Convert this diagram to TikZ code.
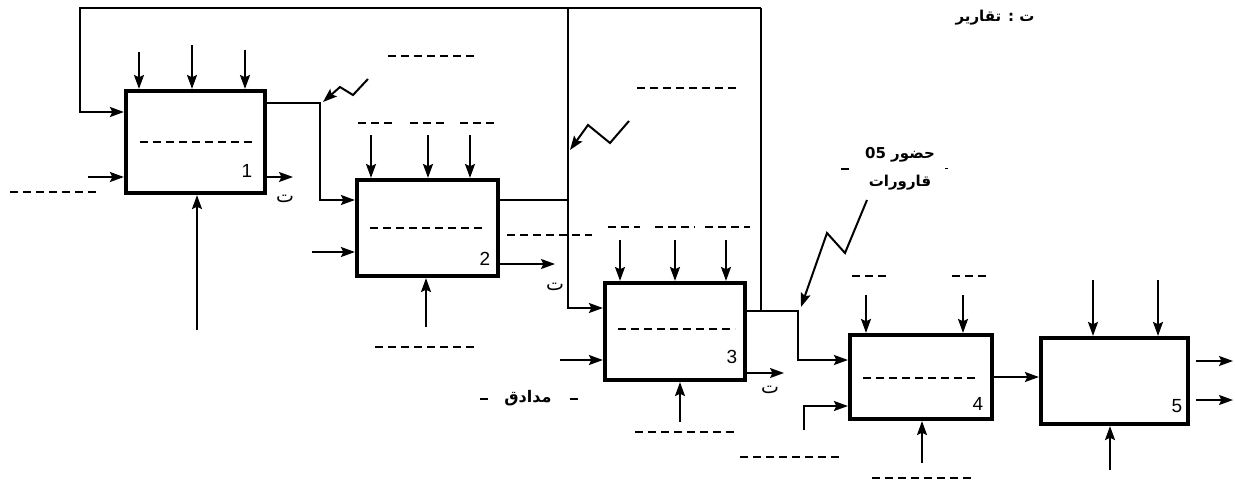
\documentclass[tikz,border=0pt]{standalone}
\usepackage{fontspec}
\setmainfont{Liberation Sans}
\newfontfamily\arabicfont[Script=Arabic]{DejaVu Sans}
\TeXXeTstate=1
\usetikzlibrary{arrows.meta}

\tikzset{
  proc/.style={draw, line width=4.2pt, inner sep=0pt},
  flow/.style={line width=2pt},
  blank/.style={line width=2.2pt, dash pattern=on 8pt off 5pt},
  num/.style={font=\fontsize{19}{21}\selectfont},
  ar/.style={font=\arabicfont\bfseries\fontsize{15}{17}\selectfont, inner sep=1pt},
  rep/.style={font=\arabicfont\fontsize{19}{21}\selectfont, inner sep=1pt},
}

\begin{document}
\begin{tikzpicture}[x=1pt, y=-1pt, >={Stealth[length=14pt,width=10pt,inset=2.5pt]}]
  \useasboundingbox (0,0) rectangle (1235,483);

  % Boxes
  \node[proc, minimum width=139pt, minimum height=102pt] (B1) at (195.5,142) {};
  \node[proc, minimum width=141pt, minimum height=96pt] (B2) at (427.5,228) {};
  \node[proc, minimum width=140pt, minimum height=97pt] (B3) at (675,331.5) {};
  \node[proc, minimum width=142pt, minimum height=84pt] (B4) at (921,377) {};
  \node[proc, minimum width=147pt, minimum height=86pt] (B5) at (1114.5,381) {};

  \node[num] (N1) at (247,171) {1};
  \node[num] (N2) at (485,259) {2};
  \node[num] (N3) at (732,357) {3};
  \node[num] (N4) at (978,404) {4};
  \node[num] (N5) at (1177,406) {5};

  % Feedback and links
  \coordinate (T0) at (80,8);
  \coordinate (T1) at (568,8);
  \coordinate (T2) at (761,8);
  \coordinate (J1) at (320,103);
  \coordinate (J2) at (568,200);
  \coordinate (J3) at (798,311);
  \coordinate (J4) at (761,311);

  \draw[flow,->] (T2) -- (T0) -- (T0 |- 0,112) -- (B1.west |- 0,112);
  \draw[flow] (T1) -- (J2);
  \draw[flow] (T2) -- (J4);
  \draw[flow,->] (B1.east |- J1) -- (J1) -- (J1 |- 0,200) -- (B2.west |- 0,200);
  \draw[flow,->] (B2.east |- J2) -- (J2) -- (J2 |- 0,308) -- (B3.west |- 0,308);
  \draw[flow,->] (B3.east |- J3) -- (J3) -- (J3 |- 0,360) -- (B4.west |- 0,360);
  \draw[flow,->] (B4.east |- 0,377) -- (B5.west |- 0,377);

  % Zigzag arrows
  \draw[flow,->] (368,79) -- (353,95) -- (340,87) -- (323,102);
  \draw[flow,->] (629,121) -- (610,143) -- (588,125) -- (570,150);
  \draw[flow,->] (867,200) -- (845,253) -- (827,233) -- (801,307);

  % Controls from above
  \foreach \x/\y in {139/52, 192/45, 245/50}
    \draw[flow,->] (\x,\y) -- (\x,\y |- B1.north);
  \foreach \x in {371, 428, 470}
    \draw[flow,->] (\x,135) -- (\x,135 |- B2.north);
  \foreach \x in {620, 675, 726}
    \draw[flow,->] (\x,240) -- (\x,240 |- B3.north);
  \foreach \x in {866, 963}
    \draw[flow,->] (\x,295) -- (\x,295 |- B4.north);
  \foreach \x in {1093, 1158}
    \draw[flow,->] (\x,280) -- (\x,280 |- B5.north);

  % Inputs
  \coordinate (I1) at (88,177);
  \coordinate (I2) at (312,252);
  \coordinate (I3) at (560,360);
  \coordinate (I4) at (804,430);
  \draw[flow,->] (I1) -- (I1 -| B1.west);
  \draw[flow,->] (I2) -- (I2 -| B2.west);
  \draw[flow,->] (I3) -- (I3 -| B3.west);
  \draw[flow,->] (I4) -- (I4 |- 0,406) -- (B4.west |- 0,406);

  % Mechanisms from below
  \coordinate (M1) at (197,330);
  \coordinate (M2) at (426,327);
  \coordinate (M3) at (680,422);
  \coordinate (M4) at (922,463);
  \coordinate (M5) at (1110,470);
  \draw[flow,->] (M1) -- (M1 |- B1.south);
  \draw[flow,->] (M2) -- (M2 |- B2.south);
  \draw[flow,->] (M3) -- (M3 |- B3.south);
  \draw[flow,->] (M4) -- (M4 |- B4.south);
  \draw[flow,->] (M5) -- (M5 |- B5.south);

  % Outputs
  \coordinate (O1) at (293,177);
  \coordinate (O2) at (555,264);
  \coordinate (O3) at (784,373);
  \coordinate (O4) at (1233,361);
  \coordinate (O5) at (1233,400);
  \draw[flow,->] (O1 -| B1.east) -- (O1);
  \draw[flow,->] (O2 -| B2.east) -- (O2);
  \draw[flow,->] (O3 -| B3.east) -- (O3);
  \draw[flow,->] (1196,361) -- (O4);
  \draw[flow,->] (1196,400) -- (O5);

  \node[rep] (R1) at (285,199) {ت};
  \node[rep] (R2) at (555,287) {ت};
  \node[rep] (R3) at (770,390) {ت};

  % Blank fields
  \draw[blank] (10,192) -- (98,192);
  \draw[blank] (140,142) -- (252,142);
  \draw[blank] (388,56) -- (478,56);
  \draw[blank] (637,88) -- (737,88);
  \draw[blank] (358,123) -- (392,123);
  \draw[blank] (410,123) -- (446,123);
  \draw[blank] (460,123) -- (498,123);
  \draw[blank] (370,228) -- (484,228);
  \draw[blank] (507,235) -- (592,235);
  \draw[blank] (608,227) -- (640,227);
  \draw[blank] (655,227) -- (695,227);
  \draw[blank] (705,227) -- (750,227);
  \draw[blank] (375,347) -- (475,347);
  \draw[blank] (618,329) -- (735,329);
  \draw[blank] (635,432) -- (735,432);
  \draw[blank] (852,276) -- (887,276);
  \draw[blank] (952,276) -- (987,276);
  \draw[blank] (863,378) -- (979,378);
  \draw[blank] (740,457) -- (840,457);
  \draw[blank] (872,478) -- (972,478);

  % Texts
  \node[ar] (key) at (995,18) {\beginR ت : تقارير\endR};
  \node[ar] (att) at (900,155) {\beginR حضور \beginL 05\endL{}\endR};
  \node[ar] (vial) at (900,183) {\beginR قارورات\endR};
  \draw[blank] (841,169) -- (851,169);
  \draw[line width=1pt] (945,168) -- (948,168);
  \node[ar, font=\arabicfont\bfseries\fontsize{16}{18}\selectfont] (ink) at (528,398) {\beginR مدادق\endR};
  \draw[blank] (480,399) -- (490,399);
  \draw[blank] (570,399) -- (578,399);
\end{tikzpicture}
\end{document}
